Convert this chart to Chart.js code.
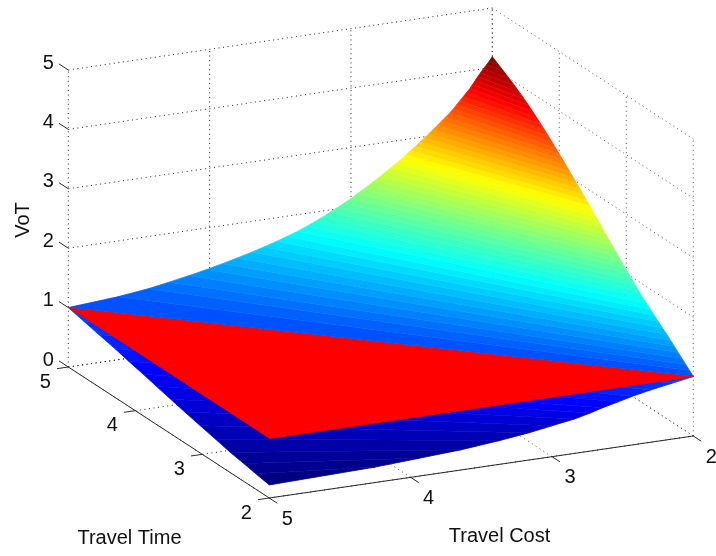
<!DOCTYPE html>
<html>
<head>
<meta charset="utf-8">
<title>VoT surface</title>
<script src="https://cdn.jsdelivr.net/npm/chart.js@4"></script>
<style>
  html, body { margin: 0; padding: 0; background: #fff; }
  canvas { display: block; }
</style>
</head>
<body>
<canvas id="surfaceChart" width="716" height="556"></canvas>
<script>
const costTicks = [2, 3, 4, 5];
const timeTicks = [2, 3, 4, 5];
const votTicks = [0, 1, 2, 3, 4, 5];

// contour levels above the VoT = 1 diagonal, with where each one meets
// the Travel Time = 5 edge and the Travel Cost = 2 edge
const upperVot = [
  1.00, 1.06, 1.12, 1.18, 1.24, 1.30, 1.36, 1.42, 1.48, 1.54, 1.60, 1.66, 1.72, 1.78,
  1.84, 1.90, 1.96, 2.02, 2.08, 2.14, 2.20, 2.26, 2.32, 2.38, 2.44, 2.50, 2.56, 2.62,
  2.68, 2.74, 2.80, 2.86, 2.92, 2.98, 3.04, 3.10, 3.16, 3.22, 3.28, 3.34, 3.40, 3.46,
  3.52, 3.58, 3.64, 3.70, 3.76, 3.82, 3.88, 3.94, 4.00, 4.06, 4.12, 4.18
];
const upperCost = [
  5.000, 4.650, 4.435, 4.286, 4.146, 4.020, 3.908, 3.803, 3.702, 3.615, 3.528, 3.452, 3.376, 3.314,
  3.256, 3.198, 3.146, 3.097, 3.048, 3.000, 2.958, 2.916, 2.874, 2.831, 2.793, 2.755, 2.717, 2.679,
  2.642, 2.609, 2.576, 2.543, 2.510, 2.478, 2.448, 2.418, 2.388, 2.358, 2.329, 2.299, 2.275, 2.252,
  2.229, 2.205, 2.182, 2.158, 2.140, 2.121, 2.102, 2.083, 2.062, 2.040, 2.018, 2.000
];
const upperTime = [
  2.000, 2.056, 2.113, 2.169, 2.226, 2.282, 2.338, 2.395, 2.460, 2.520, 2.580, 2.640, 2.700, 2.760,
  2.810, 2.862, 2.914, 2.965, 3.016, 3.066, 3.115, 3.164, 3.212, 3.260, 3.308, 3.356, 3.404, 3.452,
  3.500, 3.549, 3.598, 3.648, 3.697, 3.747, 3.797, 3.848, 3.899, 3.951, 4.003, 4.056, 4.110, 4.164,
  4.220, 4.277, 4.336, 4.397, 4.460, 4.526, 4.596, 4.671, 4.750, 4.833, 4.916, 5.000
];

// contour levels below the diagonal, meeting the Travel Cost = 5 edge and the Travel Time = 2 edge
const lowerVot = [1.00, 0.94, 0.88, 0.82, 0.76, 0.70, 0.64, 0.58, 0.52, 0.46, 0.40, 0.34, 0.30, 0.26, 0.22];
const lowerTime = [5.00, 4.77, 4.54, 4.30, 4.10, 3.88, 3.68, 3.47, 3.26, 3.03, 2.80, 2.58, 2.38, 2.20, 2.00];
const lowerCost = [2.00, 2.15, 2.30, 2.43, 2.53, 2.64, 2.73, 2.84, 3.00, 3.16, 3.37, 3.64, 3.94, 4.25, 5.00];

// the flat red triangle at VoT = 1
const planeCost = [5, 2, 5];
const planeTime = [5, 2, 2];
const planeVot = [1, 1, 1];

const colorMin = 0.22;
const colorMax = 4.18;

// view of the box: pixels of the front corner and per unit of each axis
function project(cost, time, vot) {
  return {
    x: 269.3 + (5 - cost) * 141.33 - (time - 2) * 67,
    y: 498 - (5 - cost) * 20.67 - (time - 2) * 43.67 - vot * 59.4,
  };
}

function jet(value) {
  const t = (value - colorMin) / (colorMax - colorMin);
  const part = (v) => Math.round(255 * Math.max(0, Math.min(1, v)));
  const r = part(Math.min(4 * t - 1.5, 4.5 - 4 * t));
  const g = part(Math.min(4 * t - 0.5, 3.5 - 4 * t));
  const b = part(Math.min(4 * t + 0.5, 2.5 - 4 * t));
  return "rgb(" + r + "," + g + "," + b + ")";
}

const datasets = [];

function addLine(points, color, dash) {
  datasets.push({
    data: points,
    showLine: true,
    fill: false,
    borderColor: color,
    borderWidth: 1,
    borderDash: dash || [],
    pointRadius: 0,
    tension: 0,
  });
}

function addPolygon(points, color) {
  datasets.push({
    data: points,
    showLine: true,
    fill: "shape",
    backgroundColor: color,
    borderColor: color,
    borderWidth: 0.8,
    pointRadius: 0,
    tension: 0,
  });
}

// back walls and floor
const dots = [1, 3.6];
const leftDots = "#202020";
const rightDots = "#505050";

votTicks.forEach((v) => {
  addLine([project(5, 5, v), project(2, 5, v)], leftDots, dots);
  addLine([project(2, 5, v), project(2, 2, v)], rightDots, dots);
});
costTicks.forEach((c) => {
  addLine([project(c, 5, 0), project(c, 5, 5)], leftDots, dots);
  addLine([project(c, 2, 0), project(c, 5, 0)], rightDots, dots);
});
timeTicks.forEach((t) => {
  addLine([project(2, t, 0), project(2, t, 5)], rightDots, dots);
  addLine([project(5, t, 0), project(2, t, 0)], leftDots, dots);
});

// axis lines and tick marks
const axisColor = "#2a2a2a";
addLine([project(5, 5, 0), project(5, 2, 0)], axisColor);
addLine([project(5, 2, 0), project(2, 2, 0)], axisColor);
votTicks.forEach((v) => addLine([project(5, 5, v), project(5, 5.14, v)], axisColor));
timeTicks.forEach((t) => addLine([project(5, t, 0), project(5.08, t, 0)], axisColor));
costTicks.forEach((c) => addLine([project(c, 2, 0), project(c, 1.88, 0)], axisColor));

// part of the surface under the plane, far side first
for (let i = 0; i < lowerVot.length - 1; i++) {
  addPolygon(
    [
      project(5, lowerTime[i], lowerVot[i]),
      project(5, lowerTime[i + 1], lowerVot[i + 1]),
      project(lowerCost[i + 1], 2, lowerVot[i + 1]),
      project(lowerCost[i], 2, lowerVot[i]),
    ],
    jet((lowerVot[i] + lowerVot[i + 1]) / 2)
  );
}

addPolygon(planeCost.map((c, i) => project(c, planeTime[i], planeVot[i])), "#ff0000");

// part of the surface above the plane
for (let i = 0; i < upperVot.length - 1; i++) {
  addPolygon(
    [
      project(upperCost[i], 5, upperVot[i]),
      project(upperCost[i + 1], 5, upperVot[i + 1]),
      project(2, upperTime[i + 1], upperVot[i + 1]),
      project(2, upperTime[i], upperVot[i]),
    ],
    jet((upperVot[i] + upperVot[i + 1]) / 2)
  );
}

// Chart.js paints the first dataset last
datasets.reverse();

const axisText = {
  id: "axisText",
  afterDraw(chart) {
    const { ctx, scales } = chart;
    const put = (label, p, dx, dy) => {
      ctx.fillText(label, scales.x.getPixelForValue(p.x) + dx, scales.y.getPixelForValue(p.y) + dy);
    };
    ctx.save();
    ctx.fillStyle = "#111";
    ctx.font = '20px "Liberation Sans"';
    ctx.textAlign = "center";
    ctx.textBaseline = "middle";
    votTicks.forEach((v) => put(String(v), project(5, 5, v), -20, -7));
    timeTicks.forEach((t) => put(String(t), project(5, t, 0), -23, 15));
    costTicks.forEach((c) => put(String(c), project(c, 2, 0), 18, 21));
    ctx.fillText("Travel Time", 129.5, 538);
    ctx.fillText("Travel Cost", 499.5, 536);
    ctx.translate(23, 220);
    ctx.rotate(-Math.PI / 2);
    ctx.fillText("VoT", 0, 0);
    ctx.restore();
  },
};

new Chart(document.getElementById("surfaceChart"), {
  type: "scatter",
  data: { datasets: datasets },
  options: {
    responsive: false,
    animation: false,
    layout: { padding: 0 },
    scales: {
      x: { type: "linear", display: false, min: 0, max: 716 },
      y: { type: "linear", display: false, min: 0, max: 556, reverse: true },
    },
    plugins: {
      legend: { display: false },
      tooltip: { enabled: false },
    },
  },
  plugins: [axisText],
});
</script>
</body>
</html>
